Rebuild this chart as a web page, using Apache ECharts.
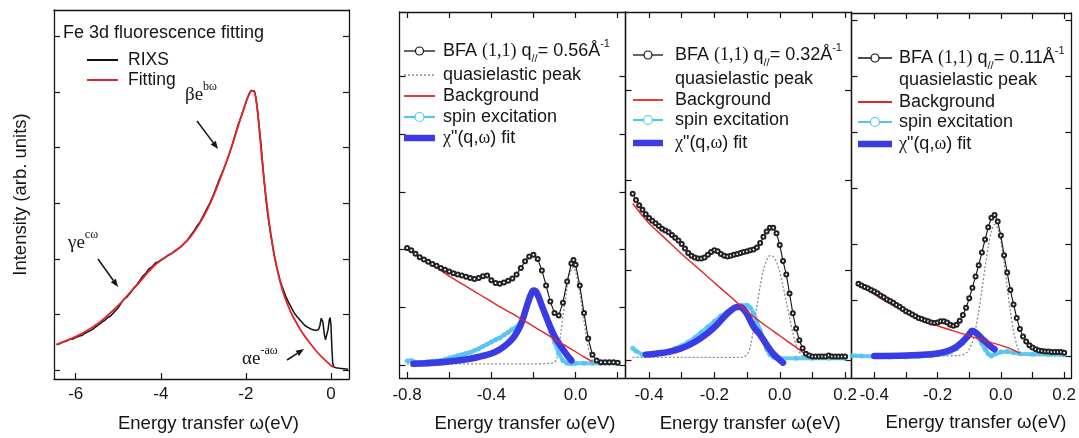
<!DOCTYPE html>
<html><head><meta charset="utf-8">
<script src="https://cdn.jsdelivr.net/npm/echarts@6.0.0/dist/echarts.min.js"></script>
<style>html,body{margin:0;padding:0;background:#fff}#c{width:1079px;height:438px}</style>
</head><body><div id="c"></div>
<script>
// ---------------- DATA ----------------
const qValues = ['0.56', '0.32', '0.11'];
const legendNames = ['quasielastic peak', 'Background', 'spin excitation', 'χ"(q,ω) fit'];
const fluorLegend = ['RIXS', 'Fitting'];

const tickLabelsFluor = [-6, -4, -2, 0];
const tickLabelsQ056 = [-0.8, -0.4, 0];
const tickLabelsQ032 = [-0.4, -0.2, 0, 0.2];
const tickLabelsQ011 = [-0.4, -0.2, 0, 0.2];
const ticksFluor = [-6, -4, -2, 0];
const ticksQ056 = [-0.8, -0.6, -0.4, -0.2, 0, 0.2];
const ticksQ032 = [-0.4, -0.3, -0.2, -0.1, 0, 0.1, 0.2];
const ticksQ011 = [-0.4, -0.3, -0.2, -0.1, 0, 0.1, 0.2];

// Fe 3d fluorescence panel
const rixsData = [[-6.45,0.45],[-6.38,0.47],[-6.3,0.50],[-6.22,0.52],[-6.15,0.55],[-6.08,0.55],[-6.0,0.58],[-5.92,0.61],[-5.85,0.62],[-5.78,0.66],[-5.7,0.69],[-5.62,0.72],[-5.55,0.76],[-5.48,0.80],[-5.4,0.85],[-5.32,0.89],[-5.25,0.94],[-5.18,0.97],[-5.1,1.04],[-5.02,1.10],[-4.95,1.18],[-4.88,1.26],[-4.8,1.31],[-4.72,1.38],[-4.65,1.46],[-4.58,1.52],[-4.5,1.60],[-4.42,1.69],[-4.35,1.74],[-4.28,1.82],[-4.2,1.86],[-4.12,1.93],[-4.05,1.95],[-3.98,1.99],[-3.9,2.02],[-3.82,2.07],[-3.75,2.09],[-3.68,2.14],[-3.6,2.18],[-3.52,2.22],[-3.45,2.28],[-3.38,2.33],[-3.3,2.42],[-3.22,2.50],[-3.15,2.59],[-3.08,2.66],[-3.0,2.78],[-2.92,2.90],[-2.85,3.00],[-2.78,3.12],[-2.7,3.28],[-2.62,3.44],[-2.55,3.56],[-2.48,3.70],[-2.4,3.87],[-2.32,4.06],[-2.25,4.24],[-2.18,4.42],[-2.1,4.58],[-2.03,4.74],[-1.97,4.88],[-1.92,4.98],[-1.88,5.03],[-1.84,5.01],[-1.8,5.02],[-1.77,4.92],[-1.73,4.70],[-1.69,4.40],[-1.65,4.10],[-1.61,3.74],[-1.57,3.40],[-1.53,3.08],[-1.49,2.82],[-1.45,2.60],[-1.41,2.40],[-1.37,2.22],[-1.33,2.05],[-1.29,1.90],[-1.25,1.77],[-1.2,1.62],[-1.15,1.50],[-1.1,1.40],[-1.05,1.30],[-1.0,1.22],[-0.93,1.12],[-0.86,1.02],[-0.8,0.96],[-0.73,0.90],[-0.66,0.84],[-0.6,0.79],[-0.53,0.76],[-0.46,0.73],[-0.4,0.72],[-0.34,0.71],[-0.29,0.73],[-0.26,0.80],[-0.23,0.93],[-0.21,0.96],[-0.19,0.86],[-0.16,0.66],[-0.13,0.54],[-0.1,0.56],[-0.07,0.72],[-0.04,0.90],[-0.02,0.94],[0.0,0.80],[0.02,0.40],[0.04,0.12],[0.07,0.05],[0.12,0.04],[0.2,0.03],[0.3,0.02],[0.4,0.01]];
const rixsFit = [[-6.45,0.46],[-6.2,0.53],[-6.0,0.60],[-5.75,0.70],[-5.5,0.82],[-5.25,0.98],[-5.0,1.16],[-4.75,1.37],[-4.5,1.58],[-4.3,1.76],[-4.15,1.88],[-4.0,1.97],[-3.85,2.05],[-3.7,2.12],[-3.5,2.24],[-3.3,2.40],[-3.1,2.62],[-2.9,2.90],[-2.7,3.25],[-2.5,3.66],[-2.3,4.10],[-2.15,4.47],[-2.0,4.82],[-1.92,4.97],[-1.86,5.03],[-1.8,5.00],[-1.76,4.86],[-1.72,4.60],[-1.68,4.28],[-1.64,3.94],[-1.6,3.62],[-1.55,3.26],[-1.5,2.94],[-1.45,2.64],[-1.4,2.38],[-1.35,2.14],[-1.3,1.94],[-1.25,1.76],[-1.2,1.60],[-1.1,1.34],[-1.0,1.14],[-0.9,0.97],[-0.8,0.83],[-0.7,0.70],[-0.6,0.59],[-0.5,0.49],[-0.4,0.39],[-0.3,0.30],[-0.2,0.22],[-0.1,0.15],[0.0,0.08],[0.05,0.05]];

// q = 0.56
const q056Bfa = [[-0.80,2.03],[-0.78,1.99],[-0.76,1.93],[-0.74,1.87],[-0.72,1.83],[-0.70,1.79],[-0.68,1.75],[-0.66,1.72],[-0.64,1.68],[-0.62,1.65],[-0.60,1.62],[-0.58,1.59],[-0.56,1.57],[-0.54,1.55],[-0.52,1.53],[-0.50,1.51],[-0.48,1.49],[-0.46,1.51],[-0.44,1.54],[-0.42,1.55],[-0.40,1.47],[-0.38,1.42],[-0.36,1.41],[-0.34,1.43],[-0.32,1.46],[-0.30,1.50],[-0.28,1.57],[-0.26,1.68],[-0.24,1.80],[-0.22,1.88],[-0.20,1.91],[-0.18,1.84],[-0.16,1.64],[-0.14,1.38],[-0.12,1.10],[-0.10,0.90],[-0.08,0.86],[-0.06,1.08],[-0.04,1.45],[-0.02,1.76],[-0.01,1.82],[0.00,1.74],[0.02,1.38],[0.04,0.90],[0.06,0.46],[0.08,0.18],[0.10,0.08],[0.12,0.05],[0.14,0.05],[0.16,0.05],[0.18,0.05],[0.20,0.04]];
const q056Quasi = [[-0.80,0.02],[-0.60,0.02],[-0.40,0.02],[-0.20,0.02],[-0.12,0.03],[-0.10,0.05],[-0.09,0.10],[-0.08,0.30],[-0.07,0.55],[-0.06,0.85],[-0.05,1.10],[-0.04,1.35],[-0.03,1.55],[-0.02,1.65],[-0.01,1.70],[0.00,1.62],[0.01,1.45],[0.02,1.25],[0.03,1.00],[0.04,0.75],[0.05,0.52],[0.06,0.32],[0.07,0.17],[0.08,0.08],[0.10,0.02],[0.20,0.02]];
const q056Bg = [[-0.80,2.03],[-0.75,1.90],[-0.70,1.78],[-0.65,1.66],[-0.60,1.54],[-0.55,1.43],[-0.50,1.32],[-0.45,1.21],[-0.40,1.10],[-0.35,0.99],[-0.30,0.89],[-0.25,0.78],[-0.20,0.67],[-0.15,0.56],[-0.10,0.45],[-0.05,0.34],[0.00,0.23],[0.04,0.14],[0.08,0.06]];
const q056Spin = [[-0.80,0.07],[-0.78,0.08],[-0.76,0.05],[-0.74,0.04],[-0.72,0.05],[-0.70,0.06],[-0.68,0.07],[-0.66,0.07],[-0.64,0.08],[-0.62,0.10],[-0.60,0.12],[-0.58,0.14],[-0.56,0.16],[-0.54,0.18],[-0.52,0.20],[-0.50,0.22],[-0.48,0.25],[-0.46,0.28],[-0.44,0.32],[-0.42,0.36],[-0.40,0.40],[-0.38,0.44],[-0.36,0.47],[-0.34,0.52],[-0.32,0.57],[-0.30,0.62],[-0.28,0.66],[-0.26,0.75],[-0.24,0.92],[-0.22,1.10],[-0.20,1.25],[-0.18,1.22],[-0.16,1.05],[-0.14,0.82],[-0.12,0.58],[-0.10,0.40],[-0.08,0.20],[-0.06,0.08],[-0.04,0.03],[-0.02,0.02],[0.00,0.03],[0.04,0.03],[0.08,0.03],[0.12,0.03],[0.16,0.03],[0.20,0.03]];
const q056Chi = [[-0.77,0.02],[-0.70,0.03],[-0.60,0.06],[-0.50,0.11],[-0.45,0.15],[-0.40,0.20],[-0.36,0.27],[-0.32,0.38],[-0.29,0.50],[-0.26,0.70],[-0.24,0.92],[-0.22,1.15],[-0.21,1.24],[-0.20,1.29],[-0.19,1.28],[-0.18,1.22],[-0.16,1.03],[-0.14,0.84],[-0.12,0.66],[-0.10,0.50],[-0.08,0.38],[-0.06,0.27],[-0.04,0.17],[-0.02,0.08]];

// q = 0.32
const q032Bfa = [[-0.45,1.85],[-0.44,1.78],[-0.43,1.72],[-0.42,1.67],[-0.41,1.62],[-0.40,1.58],[-0.39,1.55],[-0.38,1.52],[-0.37,1.49],[-0.36,1.46],[-0.35,1.44],[-0.34,1.42],[-0.33,1.39],[-0.32,1.36],[-0.31,1.33],[-0.30,1.29],[-0.29,1.24],[-0.28,1.19],[-0.27,1.16],[-0.26,1.14],[-0.25,1.13],[-0.24,1.13],[-0.23,1.14],[-0.22,1.17],[-0.21,1.20],[-0.20,1.22],[-0.19,1.21],[-0.18,1.18],[-0.17,1.16],[-0.16,1.15],[-0.15,1.16],[-0.14,1.17],[-0.13,1.18],[-0.12,1.19],[-0.11,1.20],[-0.10,1.21],[-0.09,1.22],[-0.08,1.23],[-0.07,1.25],[-0.06,1.30],[-0.05,1.37],[-0.04,1.43],[-0.03,1.47],[-0.02,1.47],[-0.01,1.41],[0.00,1.28],[0.01,1.10],[0.02,0.95],[0.03,0.74],[0.04,0.52],[0.05,0.35],[0.06,0.22],[0.07,0.13],[0.08,0.07],[0.09,0.05],[0.10,0.04],[0.11,0.04],[0.12,0.04],[0.13,0.04],[0.14,0.04],[0.15,0.05],[0.16,0.04],[0.17,0.04],[0.18,0.04],[0.19,0.04],[0.20,0.04]];
const q032Quasi = [[-0.45,0.03],[-0.30,0.03],[-0.12,0.03],[-0.10,0.06],[-0.09,0.15],[-0.08,0.35],[-0.07,0.60],[-0.06,0.82],[-0.05,1.00],[-0.04,1.11],[-0.03,1.16],[-0.02,1.15],[-0.01,1.09],[0.00,0.98],[0.01,0.82],[0.02,0.65],[0.03,0.47],[0.04,0.30],[0.05,0.17],[0.06,0.09],[0.07,0.04],[0.08,0.02],[0.20,0.02]];
const q032Bg = [[-0.45,1.74],[-0.40,1.52],[-0.35,1.35],[-0.30,1.18],[-0.25,1.02],[-0.20,0.86],[-0.15,0.70],[-0.10,0.54],[-0.05,0.40],[0.00,0.27],[0.05,0.14],[0.08,0.06]];
const q032Spin = [[-0.45,0.13],[-0.44,0.10],[-0.42,0.06],[-0.40,0.06],[-0.38,0.07],[-0.36,0.08],[-0.34,0.10],[-0.32,0.13],[-0.30,0.16],[-0.28,0.20],[-0.26,0.25],[-0.24,0.31],[-0.22,0.37],[-0.20,0.43],[-0.18,0.49],[-0.16,0.54],[-0.14,0.58],[-0.12,0.61],[-0.10,0.61],[-0.09,0.58],[-0.08,0.52],[-0.07,0.43],[-0.06,0.33],[-0.05,0.22],[-0.04,0.12],[-0.03,0.06],[-0.02,0.03],[0.00,0.02],[0.05,0.02],[0.10,0.02],[0.15,0.02],[0.20,0.02]];
const q032Chi = [[-0.41,0.06],[-0.38,0.07],[-0.34,0.09],[-0.30,0.13],[-0.26,0.20],[-0.22,0.30],[-0.19,0.40],[-0.17,0.48],[-0.15,0.55],[-0.13,0.59],[-0.12,0.59],[-0.11,0.56],[-0.10,0.51],[-0.08,0.37],[-0.06,0.28],[-0.04,0.17],[-0.02,0.07],[0.01,-0.03]];

// q = 0.11
const q011Bfa = [[-0.45,1.29],[-0.44,1.26],[-0.43,1.23],[-0.42,1.21],[-0.41,1.18],[-0.40,1.15],[-0.39,1.12],[-0.38,1.08],[-0.37,1.05],[-0.36,1.01],[-0.35,0.98],[-0.34,0.95],[-0.33,0.91],[-0.32,0.88],[-0.31,0.84],[-0.30,0.80],[-0.29,0.77],[-0.28,0.74],[-0.27,0.71],[-0.26,0.68],[-0.25,0.66],[-0.24,0.64],[-0.23,0.62],[-0.22,0.60],[-0.21,0.59],[-0.20,0.60],[-0.19,0.62],[-0.18,0.62],[-0.17,0.60],[-0.16,0.56],[-0.15,0.54],[-0.14,0.56],[-0.13,0.63],[-0.12,0.73],[-0.11,0.86],[-0.10,1.03],[-0.09,1.22],[-0.08,1.42],[-0.07,1.62],[-0.06,1.85],[-0.05,2.08],[-0.04,2.30],[-0.03,2.47],[-0.02,2.52],[-0.01,2.40],[0.00,2.15],[0.01,1.80],[0.02,1.49],[0.03,1.18],[0.04,0.92],[0.05,0.68],[0.06,0.48],[0.07,0.35],[0.08,0.26],[0.09,0.19],[0.10,0.15],[0.11,0.12],[0.12,0.10],[0.13,0.09],[0.14,0.08],[0.15,0.08],[0.16,0.07],[0.17,0.07],[0.18,0.07],[0.19,0.07],[0.20,0.06]];
const q011Quasi = [[-0.45,0.0],[-0.30,0.0],[-0.13,0.01],[-0.11,0.05],[-0.10,0.12],[-0.09,0.25],[-0.08,0.48],[-0.07,0.80],[-0.06,1.18],[-0.05,1.58],[-0.04,1.95],[-0.03,2.22],[-0.02,2.35],[-0.01,2.28],[0.00,2.05],[0.01,1.68],[0.02,1.22],[0.03,0.80],[0.04,0.45],[0.05,0.20],[0.06,0.07],[0.07,0.02],[0.20,0.0]];
const q011Bg = [[-0.45,1.28],[-0.40,1.10],[-0.35,0.93],[-0.30,0.78],[-0.25,0.65],[-0.20,0.54],[-0.15,0.45],[-0.10,0.36],[-0.05,0.27],[0.00,0.19],[0.03,0.13],[0.06,0.05]];
const q011Spin = [[-0.47,0.01],[-0.44,0.0],[-0.40,-0.01],[-0.35,-0.02],[-0.30,-0.02],[-0.26,-0.01],[-0.22,0.01],[-0.18,0.04],[-0.16,0.07],[-0.14,0.13],[-0.12,0.23],[-0.10,0.36],[-0.09,0.42],[-0.08,0.40],[-0.07,0.32],[-0.06,0.22],[-0.05,0.12],[-0.04,0.04],[-0.03,0.0],[-0.02,0.03],[0.00,0.07],[0.02,0.08],[0.04,0.06],[0.06,0.04],[0.10,0.03],[0.15,0.03],[0.20,0.02]];
const q011Chi = [[-0.40,0.0],[-0.30,0.01],[-0.22,0.03],[-0.18,0.07],[-0.15,0.13],[-0.13,0.21],[-0.11,0.32],[-0.10,0.39],[-0.09,0.45],[-0.08,0.42],[-0.07,0.37],[-0.06,0.31],[-0.05,0.26],[-0.04,0.21],[-0.03,0.16],[-0.02,0.12]];

// ---------------- LAYOUT / STYLE ----------------
const FONT = '"Liberation Sans", Arial, Helvetica, sans-serif';
const SERIF = '"Liberation Serif", "Times New Roman", serif';
const INK = '#151515';
const C = {red:'#e3242b', light:'#55c4f0', blue:'#3b3be3', gray:'#8a8a8a', black:'#111'};

const layout = [
  {box:[54,10,295,372.5], x:[-6.51,0.423], y:[-0.164,6.48], yt:[0,1,2,3,4,5,6], xt:ticksFluor, xl:tickLabelsFluor, dec:0, top:false, margin:7, gap:35, shift:14},
  {box:[399.5,12,226,366], x:[-0.836,0.237], y:[-0.225,6.12], yt:[0,1,2,3,4,5], xt:ticksQ056, xl:tickLabelsQ056, dec:1, top:true, margin:9, gap:36, shift:25},
  {box:[625.5,12,225.5,366], x:[-0.472,0.218], y:[-0.2,3.87], yt:[0,1,2,3], xt:ticksQ032, xl:tickLabelsQ032, dec:1, top:true, margin:9, gap:36, shift:24},
  {box:[851.5,13,220,365], x:[-0.472,0.2227], y:[-0.393,6.125], yt:[0,1,2,3,4,5,6], xt:ticksQ011, xl:tickLabelsQ011, dec:1, top:true, margin:9, gap:35, shift:29}
];

const grids = [], xAxes = [], yAxes = [];
const axisLine = {show:true, onZero:false, lineStyle:{color:INK, width:1.3}};
layout.forEach((L, i) => {
  grids.push({left:L.box[0], top:L.box[1], width:L.box[2], height:L.box[3], containLabel:false});
  const tick = (vals) => ({show:true, inside:true, length:6, customValues:vals, lineStyle:{color:INK, width:1.2}});
  xAxes.push({type:'value', gridIndex:i, position:'bottom', min:L.x[0], max:L.x[1], splitLine:{show:false},
    axisLine, axisTick:tick(L.xt),
    axisLabel:{show:true, customValues:L.xl, margin:L.margin, fontSize:17, color:INK, fontFamily:FONT,
      formatter: v => L.dec ? Number(v).toFixed(L.dec) : String(v)},
    name:'Energy transfer ω(eV)', nameLocation:'middle', nameGap:L.gap,
    nameTextStyle:{fontSize:18.5, color:INK, fontFamily:FONT, padding:[0,0,0,L.shift]}});
  xAxes.push({type:'value', gridIndex:i, position:'top', min:L.x[0], max:L.x[1], splitLine:{show:false},
    axisLine, axisTick: L.top ? tick(L.xt) : {show:false}, axisLabel:{show:false}});
  yAxes.push(Object.assign({type:'value', gridIndex:i, position:'left', min:L.y[0], max:L.y[1], splitLine:{show:false},
    axisLine, axisTick:tick(L.yt), axisLabel:{show:false}},
    i === 0 ? {name:'Intensity (arb. units)', nameLocation:'middle', nameGap:24,
      nameTextStyle:{fontSize:18.5, color:INK, fontFamily:FONT}} : {}));
  yAxes.push({type:'value', gridIndex:i, position:'right', min:L.y[0], max:L.y[1], splitLine:{show:false},
    axisLine, axisTick:tick(L.yt), axisLabel:{show:false}});
});

function lineSeries(name, p, data, color, width, extra) {
  return Object.assign({type:'line', name, xAxisIndex:2*p, yAxisIndex:2*p, data, showSymbol:false, symbol:'none',
    lineStyle:{color, width}, itemStyle:{color}, animation:false, silent:true}, extra || {});
}
const panelSets = [
  [q056Quasi, q056Bg, q056Spin, q056Chi, q056Bfa],
  [q032Quasi, q032Bg, q032Spin, q032Chi, q032Bfa],
  [q011Quasi, q011Bg, q011Spin, q011Chi, q011Bfa]
];
const series = [
  lineSeries(fluorLegend[1], 0, rixsFit, C.red, 1.8, {smooth:0.3, z:3}),
  lineSeries(fluorLegend[0], 0, rixsData, C.black, 1.5, {z:2})
];
panelSets.forEach((S, k) => {
  const p = k + 1;
  series.push(lineSeries(legendNames[0], p, S[0], C.gray, 1.3, {smooth:0.3, lineStyle:{color:C.gray, width:1.3, type:[2,2]}, z:2}));
  series.push(lineSeries(legendNames[2], p, S[2], C.light, 4, {showSymbol:true, symbol:'circle', symbolSize:5,
    itemStyle:{color:C.light, opacity:0.9}, lineStyle:{color:C.light, width:4, opacity:0.9}, z:3}));
  series.push(lineSeries(legendNames[3], p, S[3], C.blue, 6.5, {smooth:0.4, z:4, lineStyle:{color:C.blue, width:6.5, cap:'round'}}));
  series.push(lineSeries(legendNames[1], p, S[1], C.red, 1.4, {smooth:0.3, z:5}));
  series.push(lineSeries('BFA (1,1) q=' + qValues[k], p, S[4], C.black, 1.1, {showSymbol:true, symbol:'emptyCircle', symbolSize:4,
    itemStyle:{color:'#222', borderWidth:0.8}, z:6}));
});

// ---------------- ANNOTATIONS / LEGENDS ----------------
const G = [];
function txt(x, y, text, size, rich, extra) {
  G.push(Object.assign({type:'text', x, y, z:100, style:{text, fontSize:size, fontFamily:FONT, fill:INK,
    verticalAlign:'middle', align:'left', rich: rich || {}}}, extra || {}));
}
function seg(x1, y1, x2, y2, stroke, w, dash) {
  G.push({type:'line', z:100, shape:{x1, y1, x2, y2}, style:{stroke, lineWidth:w, lineDash:dash || null}});
}
function circ(cx, cy, r, stroke) {
  G.push({type:'circle', z:101, shape:{cx, cy, r}, style:{fill:'#fff', stroke, lineWidth:1.2}});
}
function arrow(x1, y1, x2, y2) {
  const dx = x2 - x1, dy = y2 - y1, Ln = Math.hypot(dx, dy), ux = dx / Ln, uy = dy / Ln, h = 8, w = 3.2;
  const bx = x2 - ux * h, by = y2 - uy * h;
  seg(x1, y1, bx, by, INK, 1.5);
  G.push({type:'polygon', z:100, shape:{points:[[x2, y2], [bx - uy * w, by + ux * w], [bx + uy * w, by - ux * w]]}, style:{fill:INK}});
}
const supRich = {
  n:{fontSize:19, fontFamily:SERIF, fill:INK, lineHeight:28, verticalAlign:'middle'},
  s:{fontSize:12, fontFamily:SERIF, fill:INK, lineHeight:12, verticalAlign:'top'}
};
// Fe 3d panel
txt(63, 33, 'Fe 3d fluorescence fitting', 18);
seg(87, 60, 118, 60, C.black, 2);
seg(87, 80, 118, 80, C.red, 2);
txt(128, 60, fluorLegend[0], 17.5);
txt(128, 80, fluorLegend[1], 17.5);
txt(185, 95, '{n|βe}{s|bω}', 19, supRich);
txt(68, 243, '{n|γe}{s|cω}', 19, supRich);
txt(242, 359, '{n|αe}{s|-aω}', 19, supRich);
arrow(197, 121, 218, 149);
arrow(98, 259, 118, 287);
arrow(287, 360, 304, 349);

// panel legends
const legRich = {
  a:{fontSize:18, fontFamily:FONT, fill:INK, lineHeight:26, verticalAlign:'middle'},
  t:{fontSize:18, fontFamily:SERIF, fill:INK, lineHeight:26, verticalAlign:'middle'},
  sub:{fontSize:11, fontFamily:FONT, fill:INK, lineHeight:18, verticalAlign:'bottom'},
  sup:{fontSize:11, fontFamily:FONT, fill:INK, lineHeight:11, verticalAlign:'top'}
};
const legPos = [
  {x0:404, x1:435, tx:443, rows:[51,75,96,117,138], quasi:true},
  {x0:633, x1:663, tx:675, rows:[55,79,100,120,143], quasi:false},
  {x0:858, x1:892, tx:899, rows:[58,80,102,122,144], quasi:false}
];
legPos.forEach((P, k) => {
  const mid = (P.x0 + P.x1) / 2, r = P.rows;
  seg(P.x0, r[0], P.x1, r[0], C.black, 1.3); circ(mid, r[0], 4, C.black);
  txt(P.tx, r[0], '{a|BFA }{t|(1,1)}{a| q}{sub|//}{a|= ' + qValues[k] + 'Å}{sup|-1}', 18, legRich);
  if (P.quasi) seg(P.x0, r[1], P.x1, r[1], C.gray, 1.3, [2, 2]);
  txt(P.tx, r[1], legendNames[0], 18);
  seg(P.x0, r[2], P.x1, r[2], C.red, 1.8);
  txt(P.tx, r[2], legendNames[1], 18);
  seg(P.x0, r[3], P.x1, r[3], C.light, 2.2); circ(mid, r[3], 4.5, C.light);
  txt(P.tx, r[3], legendNames[2], 18);
  seg(P.x0, r[4], P.x1, r[4], C.blue, 6.5);
  txt(P.tx, r[4], '{t|χ}{a|"(q,}{t|ω}{a|) fit}', 18, legRich);
});

const chart = echarts.init(document.getElementById('c'), null, {renderer:'canvas', width:1079, height:438});
chart.setOption({
  animation:false,
  backgroundColor:'#fff',
  textStyle:{fontFamily:FONT},
  grid:grids, xAxis:xAxes, yAxis:yAxes, series, graphic:G
});
</script></body></html>
